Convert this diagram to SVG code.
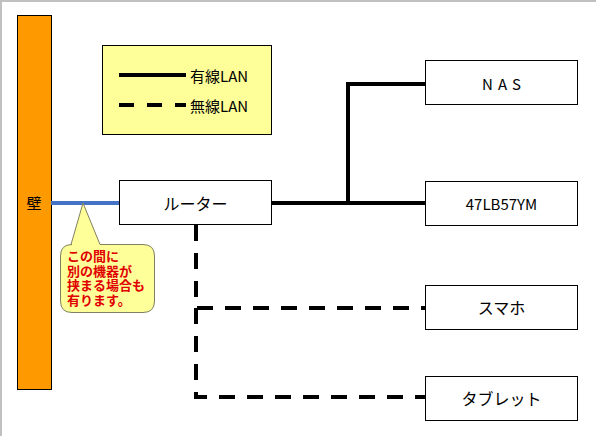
<svg xmlns="http://www.w3.org/2000/svg" width="596" height="436" viewBox="0 0 596 436">
<style>
.box{fill:#fff;stroke:#000;stroke-width:1}
.t{font-family:"Noto Sans CJK JP","Liberation Sans",sans-serif;font-size:16px;fill:#000;text-anchor:middle;dominant-baseline:central}
.lg{font-family:"Noto Sans CJK JP","Liberation Sans",sans-serif;font-size:15px;fill:#000;dominant-baseline:central}
.wired{fill:none;stroke:#000;stroke-width:4}
.wifi{fill:none;stroke:#000;stroke-width:4;stroke-dasharray:16,12}
.note{font-family:"Liberation Sans","Noto Sans CJK JP",sans-serif;font-size:13px;font-weight:bold;fill:#E00000}
</style>
<rect x="0" y="0" width="596" height="436" fill="#fff"/>
<path d="M1,436 V1 H596" fill="none" stroke="#C0C0C0" stroke-width="2"/>
<g id="wall">
<rect x="17.5" y="15.5" width="34" height="374" fill="#FF9900" stroke="#000" stroke-width="1"/>
<text class="t" x="34" y="202" style="font-size:15px">壁</text>
</g>
<g id="legend">
<rect x="102.5" y="45.5" width="169" height="89" fill="#FFFF99" stroke="#000" stroke-width="1"/>
<line class="wired" x1="119" y1="75" x2="186" y2="75"/>
<line class="wired" x1="119" y1="105" x2="186" y2="105" style="stroke-dasharray:15,13"/>
<text class="lg" x="190" y="75">有線LAN</text>
<text class="lg" x="190" y="105">無線LAN</text>
</g>
<g id="connectors">
<line x1="51" y1="203" x2="119" y2="203" stroke="#4472C4" stroke-width="4"/>
<line class="wired" x1="272" y1="203" x2="425" y2="203"/>
<path class="wired" d="M348,203 V84 H425"/>
<path class="wifi" d="M196,225 V308 H425"/>
<path class="wifi" d="M196,308 V397 H425"/>
</g>
<g id="router">
<rect class="box" x="119.5" y="180.5" width="152" height="44"/>
<text class="t" x="195.5" y="203">ルーター</text>
</g>
<g id="nas">
<rect class="box" x="425.5" y="60.5" width="152" height="44"/>
<text class="t" x="504" y="83" style="font-size:15px;letter-spacing:5px">NAS</text>
</g>
<g id="tv">
<rect class="box" x="425.5" y="181.5" width="152" height="44"/>
<text class="t" x="501.5" y="203" style="font-size:15px">47LB57YM</text>
</g>
<g id="phone">
<rect class="box" x="425.5" y="285.5" width="152" height="44"/>
<text class="t" x="501.5" y="307">スマホ</text>
</g>
<g id="tablet">
<rect class="box" x="425.5" y="376.5" width="152" height="44"/>
<text class="t" x="501.5" y="398">タブレット</text>
</g>
<g id="callout">
<path d="M83,203 L100,244.5 H143 Q154.5,244.5 154.5,256 V301 Q154.5,312.5 143,312.5 H72 Q60.5,312.5 60.5,301 V256 Q60.5,244.5 72,244.5 H71 Z" fill="#FFFF99" stroke="#808060" stroke-width="1"/>
<text class="note" x="67" y="261">この間に</text>
<text class="note" x="67" y="275.5">別の機器が</text>
<text class="note" x="67" y="290">挟まる場合も</text>
<text class="note" x="67" y="304.5">有ります。</text>
</g>
</svg>
